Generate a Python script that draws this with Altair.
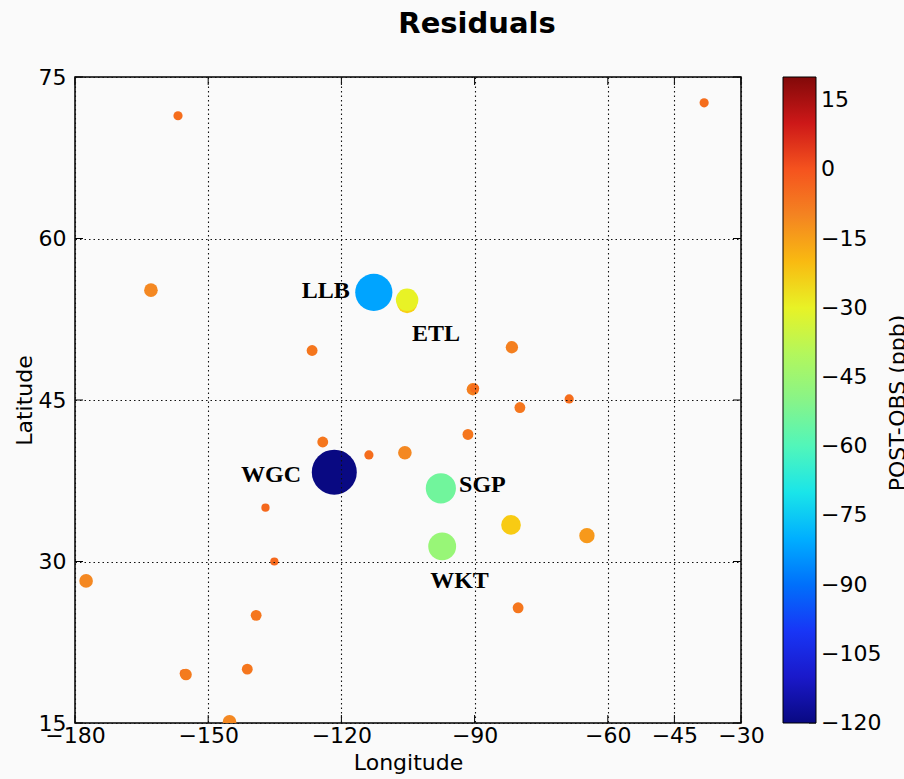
import altair as alt
import pandas as pd
import numpy as np

# ---- data ----
lon = [-156.8, -38.3, -162.9, -126.6, -81.6, -90.4, -90.0, -68.7, -79.8, -91.5,
       -124.2, -113.8, -105.7, -137.1, -64.7, -135.1, -177.5, -80.2, -139.2,
       -141.2, -155.4, -155.0, -145.2, -81.8, -105.2, -105.2, -112.7, -97.3,
       -97.6, -121.6]
lat = [71.4, 72.6, 55.2, 49.6, 49.9, 46.0, 46.1, 45.1, 44.3, 41.8,
       41.1, 39.9, 40.1, 35.0, 32.4, 30.0, 28.2, 25.7, 25.0,
       20.0, 19.6, 19.5, 15.1, 33.4, 54.0, 54.3, 55.0, 31.4,
       36.8, 38.3]
resid = [-5, -5, -11, -7, -9, -9, -5, -5, -7, -7,
         -7, -5, -11, -4, -14, -4, -11, -7, -7,
         -7, -5, -8, -11, -23, -24, -30, -82, -46,
         -54, -120]

label_names = ["LLB", "ETL", "WGC", "SGP", "WKT"]
label_lon = [-118.1, -104.1, -129.1, -93.5, -100.0]
label_lat = [55.1, 51.1, 38.0, 37.1, 28.2]
label_side = ["right", "left", "right", "left", "left"]

x_ticks = [-180, -150, -120, -90, -60, -45, -30]
y_ticks = [15, 30, 45, 60, 75]
cb_ticks = [15, 0, -15, -30, -45, -60, -75, -90, -105, -120]
cb_domain = [-120, 20]
cb_title = ["POST-OBS (ppb)"]
main_title = ["Residuals"]

# ---- jet colormap stops (slightly muted like the reference) ----
def jet(f):
    r = np.interp(f, [0, 0.35, 0.66, 0.89, 1], [0, 0, 1, 1, 0.5])
    g = np.interp(f, [0, 0.125, 0.375, 0.64, 0.91, 1], [0, 0, 1, 1, 0, 0])
    b = np.interp(f, [0, 0.11, 0.34, 0.65, 1], [0.5, 1, 1, 0, 0])
    m = 0.18 * max(r, g, b) ** 2
    c = [(v * (1 - m) + m * 0.75) for v in (r, g, b)]
    return "#%02x%02x%02x" % tuple(int(round(v * 255)) for v in c)

fs = [0, 0.11, 0.125, 0.2, 0.34, 0.35, 0.375, 0.5, 0.64, 0.65, 0.66, 0.78, 0.89, 0.91, 1]
stop_vals = [cb_domain[0] + f * (cb_domain[1] - cb_domain[0]) for f in fs]
stop_cols = [jet(f) for f in fs]

df = pd.DataFrame({"lon": lon, "lat": lat, "resid": resid})
df["absres"] = df["resid"].abs()
lab = pd.DataFrame({"name": label_names, "lon": label_lon, "lat": label_lat, "side": label_side})

W, H = 666, 646
FONT = "DejaVu Sans"
CBX = 708      # colorbar left edge, relative to plot
CBW = 33       # colorbar thickness

xs = alt.Scale(domain=[-180, -30], nice=False, zero=False)
ys = alt.Scale(domain=[15, 75], nice=False, zero=False)
cbs = alt.Scale(domain=cb_domain, nice=False, zero=False)

grid = dict(grid=True, gridColor="#111", gridDash=[1.5, 3], gridWidth=1.1, gridOpacity=1)
xaxis = alt.Axis(
    values=x_ticks, title="Longitude", domain=False, ticks=False,
    labelFont=FONT, labelFontSize=22, labelColor="black", labelPadding=2,
    labelFlush=False, labelOverlap=False,
    titleFont=FONT, titleFontSize=22, titleFontWeight="normal", titleColor="black",
    titlePadding=6, zindex=1, **grid)
yaxis = alt.Axis(
    values=y_ticks, title="Latitude", domain=False, ticks=False,
    labelFont=FONT, labelFontSize=22, labelColor="black", labelPadding=9,
    labelFlush=False, labelOverlap=False,
    titleFont=FONT, titleFontSize=22, titleFontWeight="normal", titleColor="black",
    titlePadding=2, zindex=1, **grid)

points = alt.Chart(df).mark_circle(clip=True, opacity=1, strokeWidth=0).encode(
    x=alt.X("lon:Q", scale=xs, axis=xaxis),
    y=alt.Y("lat:Q", scale=ys, axis=yaxis),
    color=alt.Color("resid:Q", scale=alt.Scale(domain=stop_vals, range=stop_cols),
                    legend=alt.Legend(
                        orient="none", legendX=CBX, legendY=0, direction="vertical",
                        gradientLength=H, gradientThickness=CBW,
                        gradientStrokeColor="black", gradientStrokeWidth=1,
                        values=cb_ticks, labelOpacity=0, labelFontSize=1,
                        title=None)),
    size=alt.Size("absres:Q", scale=alt.Scale(domain=[0, 120], range=[0, 2025]), legend=None),
)

txt = dict(font="Liberation Serif", fontWeight="bold", fontSize=24, baseline="middle", color="black")
lab_right = alt.Chart(lab).transform_filter(alt.datum.side == "right").mark_text(
    align="right", **txt).encode(
    x=alt.X("lon:Q", scale=xs, axis=xaxis), y=alt.Y("lat:Q", scale=ys, axis=None), text="name:N")
lab_left = alt.Chart(lab).transform_filter(alt.datum.side == "left").mark_text(
    align="left", **txt).encode(
    x=alt.X("lon:Q", scale=xs, axis=xaxis), y=alt.Y("lat:Q", scale=ys, axis=None), text="name:N")

cbtitle = alt.Chart(pd.DataFrame({"t": cb_title})).mark_text(
    font=FONT, fontSize=22, angle=270, align="center", baseline="alphabetic",
    color="black").encode(text="t:N", x=alt.value(830), y=alt.value(326))

title = alt.Chart(pd.DataFrame({"t": main_title})).mark_text(
    font=FONT, fontSize=29, fontWeight="bold", align="center", baseline="alphabetic",
    color="black").encode(text="t:N", x=alt.value(402), y=alt.value(-44))

xt = pd.DataFrame({"t": x_ticks})
yt = pd.DataFrame({"t": y_ticks})
cbt = pd.DataFrame({"t": cb_ticks})

tk = dict(color="black", strokeWidth=1)
t_bottom = alt.Chart(xt).mark_rule(**tk).encode(
    x=alt.X("t:Q", scale=xs, axis=xaxis), y=alt.value(H), y2=alt.value(H - 8))
t_top = alt.Chart(xt).mark_rule(**tk).encode(
    x=alt.X("t:Q", scale=xs, axis=xaxis), y=alt.value(0), y2=alt.value(8))
t_left = alt.Chart(yt).mark_rule(**tk).encode(
    y=alt.Y("t:Q", scale=ys, axis=None), x=alt.value(0), x2=alt.value(8))
t_right = alt.Chart(yt).mark_rule(**tk).encode(
    y=alt.Y("t:Q", scale=ys, axis=None), x=alt.value(W), x2=alt.value(W - 8))
t_cb = alt.Chart(cbt).mark_rule(**tk).encode(
    y=alt.Y("t:Q", scale=cbs, axis=None),
    x=alt.value(CBX + CBW - 7), x2=alt.value(CBX + CBW))
cb_labels = alt.Chart(cbt).mark_text(
    font=FONT, fontSize=22, align="left", baseline="middle", color="black").encode(
    y=alt.Y("t:Q", scale=cbs, axis=None),
    x=alt.value(CBX + CBW + 5),
    text=alt.Text("t:Q", format="d"))

chart = alt.layer(points, lab_right, lab_left, t_bottom, t_top, t_left, t_right,
                  t_cb, cb_labels, cbtitle, title).resolve_scale(
    y="independent"
).properties(
    width=W, height=H,
    autosize=alt.AutoSizeParams(type="none"),
    padding={"left": 75, "top": 77, "right": 904 - 75 - W, "bottom": 779 - 77 - H},
    background="#fafafa",
).configure_view(stroke="black", strokeWidth=1.5)

chart.save("out.html", embed_options={"renderer": "svg", "actions": False})
